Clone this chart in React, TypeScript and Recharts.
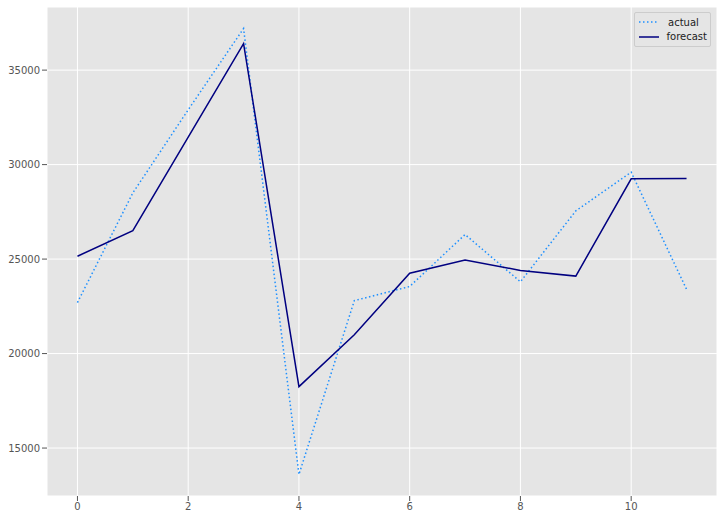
import { LineChart, Line, XAxis, YAxis, CartesianGrid } from "recharts";

const steps = [0, 1, 2, 3, 4, 5, 6, 7, 8, 9, 10, 11];
const actual = [22700, 28500, 32900, 37200, 13600, 22800, 23550, 26300, 23800, 27550, 29600, 23400];
const forecast = [25150, 26500, 31450, 36400, 18250, 21000, 24250, 24950, 24400, 24100, 29250, 29270];
const xTicks = [0, 2, 4, 6, 8, 10];
const yTicks = [15000, 20000, 25000, 30000, 35000];

const data = steps.map((s, i) => ({ step: s, actual: actual[i], forecast: forecast[i] }));

const FONT = "'DejaVu Sans', sans-serif";
const tickStyle = { fontSize: 10, fill: "#555555", fontFamily: FONT };

function LegendBox() {
  const items = [
    { name: "actual", color: "#1E90FF", dash: "1.5 2.5" },
    { name: "forecast", color: "#000080", dash: undefined },
  ];
  return (
    <div
      style={{
        position: "absolute",
        left: 634,
        top: 12,
        width: 77,
        boxSizing: "border-box",
        background: "#E5E5E5",
        border: "1px solid #CCCCCC",
        borderRadius: 2,
        padding: "2px 3px",
        fontFamily: FONT,
        fontSize: 10,
        color: "#222",
      }}
    >
      {items.map((it) => (
        <div key={it.name} style={{ display: "flex", alignItems: "center", height: 14.5 }}>
          <svg width={22} height={10} style={{ marginRight: 8 }}>
            <line x1={1} y1={5} x2={21} y2={5} stroke={it.color} strokeWidth={1.5} strokeDasharray={it.dash} />
          </svg>
          <span>{it.name}</span>
        </div>
      ))}
    </div>
  );
}

export default function App() {
  return (
    <div style={{ position: "absolute", left: 0, top: 0, width: 722, height: 520, background: "#fff" }}>
      <LineChart width={722} height={520} data={data} margin={{ top: 7, right: 5, bottom: 0, left: 0 }}>
        <CartesianGrid fill="#E5E5E5" stroke="#FFFFFF" strokeWidth={1} />
        <XAxis
          dataKey="step"
          type="number"
          domain={[-0.55, 11.55]}
          ticks={xTicks}
          allowDataOverflow
          height={24}
          axisLine={false}
          tickSize={5}
          tickMargin={2}
          tickLine={{ stroke: "#555555" }}
          tick={tickStyle}
        />
        <YAxis
          type="number"
          domain={[12463, 38340]}
          ticks={yTicks}
          allowDataOverflow
          width={47}
          axisLine={false}
          tickSize={5}
          tickMargin={2}
          tickLine={{ stroke: "#555555" }}
          tick={tickStyle}
        />
        <Line
          dataKey="actual"
          type="linear"
          stroke="#1E90FF"
          strokeWidth={1.5}
          strokeDasharray="1.5 2.5"
          dot={false}
          isAnimationActive={false}
        />
        <Line
          dataKey="forecast"
          type="linear"
          stroke="#000080"
          strokeWidth={1.5}
          dot={false}
          isAnimationActive={false}
        />
      </LineChart>
      <LegendBox />
    </div>
  );
}
